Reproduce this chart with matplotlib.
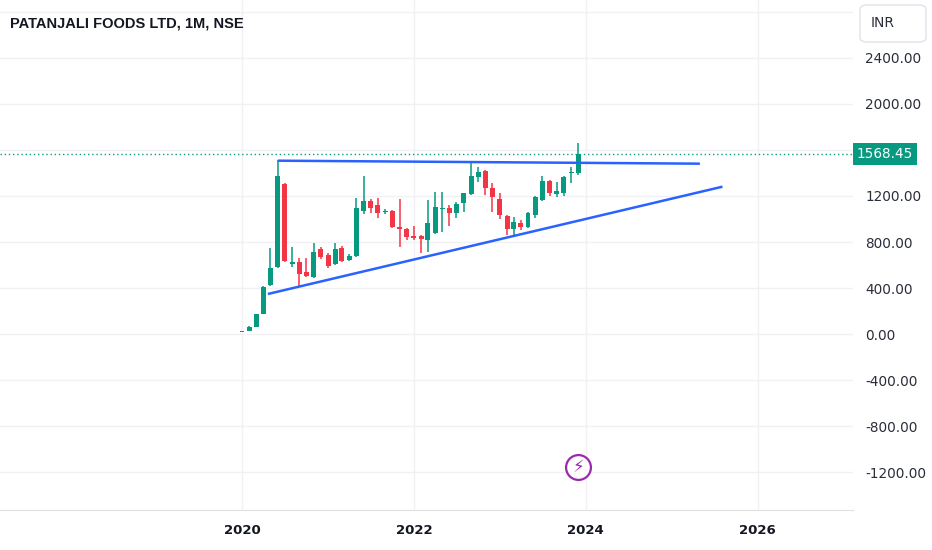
import pandas as pd
import numpy as np
import matplotlib
matplotlib.use('Agg')
import matplotlib.pyplot as plt
import matplotlib.dates as mdates
from matplotlib.patches import FancyBboxPatch

# monthly candles, Jan 2020 .. Dec 2023
months = pd.date_range('2020-01-01', '2023-12-01', freq='MS')
opens = [17, 25, 63, 174, 426, 585, 1304, 609, 629, 542, 498, 737,
         687, 606, 745, 643, 678, 1070, 1157, 1122, 1058, 1072, 933, 910,
         852, 850, 817, 881, 1090, 1093, 1050, 1142, 1217, 1363, 1417, 1267,
         1171, 1026, 910, 963, 933, 1035, 1165, 1330, 1217, 1223, 1397, 1397]
highs = [30, 66, 178, 415, 745, 1515, 1310, 759, 658, 658, 789, 760,
         702, 789, 765, 700, 1180, 1374, 1170, 1180, 1090, 1080, 1171, 925,
         939, 860, 1165, 1232, 1232, 1122, 1150, 1225, 1495, 1455, 1426, 1316,
         1223, 1035, 1020, 991, 1063, 1200, 1374, 1339, 1324, 1370, 1455, 1665]
lows = [15, 22, 60, 170, 420, 575, 630, 585, 411, 500, 490, 648,
        571, 598, 629, 635, 670, 1043, 1050, 1006, 1040, 925, 754, 817,
        817, 707, 716, 870, 890, 939, 1006, 1063, 1210, 1324, 1209, 1063,
        997, 861, 861, 904, 919, 1006, 1160, 1200, 1194, 1200, 1316, 1383]
closes = [25, 63, 174, 411, 571, 1374, 637, 629, 519, 507, 710, 667,
          591, 737, 637, 681, 1093, 1157, 1098, 1055, 1068, 928, 913, 846,
          832, 826, 963, 1102, 1098, 1055, 1130, 1223, 1374, 1411, 1267, 1189,
          1035, 910, 977, 933, 1050, 1194, 1330, 1223, 1243, 1368, 1406, 1568.45]

# drawn trendlines (start/end)
upper_dates = ['2020-06-01', '2025-05-01']
upper_vals = [1507, 1481]
lower_dates = ['2020-04-20', '2025-08-05']
lower_vals = [348, 1281]

last_price = closes[-1]
y_ticks = [-1200, -800, -400, 0, 400, 800, 1200, 2000, 2400]
grid_levels = np.arange(-1200, 2801, 400)
year_ticks = [2020, 2022, 2024, 2026]

green = '#089981'
red = '#F23645'
blue = '#2962FF'
grid_c = '#f1f1f3'
txt_c = '#131722'

fig = plt.figure(figsize=(9.32, 5.5), dpi=100)
ax = fig.add_axes([0, 40 / 550, 853 / 932, 510 / 550])

x = mdates.date2num(months)
width = 21
for xi, o, h, l, c in zip(x, opens, highs, lows, closes):
    col = green if c >= o else red
    ax.vlines(xi, l, h, color=col, lw=1.1, zorder=3)
    body = max(abs(c - o), 6)
    ax.bar(xi, body, width=width, bottom=min(o, c), color=col, zorder=4, lw=0)

ax.plot(mdates.datestr2num(upper_dates), upper_vals, color=blue, lw=1.8, zorder=5,
        solid_capstyle='butt')
ax.plot(mdates.datestr2num(lower_dates), lower_vals, color=blue, lw=1.8, zorder=5,
        solid_capstyle='butt')

ax.axhline(last_price, color=green, lw=1.0, ls=(0, (1, 2)), zorder=2)

for g in grid_levels:
    ax.axhline(g, color=grid_c, lw=1.0, zorder=0)
for yr in year_ticks:
    ax.axvline(mdates.datestr2num(f'{yr}-01-01'), color=grid_c, lw=1.0, zorder=0)

ax.set_xlim(mdates.datestr2num('2017-03-08'), mdates.datestr2num('2027-02-11'))
ax.set_ylim(-1530, 2904)

ax.set_xticks([mdates.datestr2num(f'{yr}-01-01') for yr in year_ticks])
ax.set_xticklabels([str(yr) for yr in year_ticks], fontsize=9.5, fontweight='bold',
                   color=txt_c)
ax.tick_params(axis='x', length=0, pad=10)

ax.yaxis.tick_right()
ax.set_yticks(y_ticks)
ax.set_yticklabels([f'{v:.2f}' for v in y_ticks], fontsize=9.8, color='#2a2e39')
ax.tick_params(axis='y', length=0, pad=9)

for s in ['top', 'left', 'right']:
    ax.spines[s].set_visible(False)
ax.spines['bottom'].set_color('#e0e0e0')

# last price label
ax.text(1.0 + 4 / 853, last_price, f'{last_price:.2f}', transform=ax.get_yaxis_transform(),
        ha='left', va='center', fontsize=9.8, color='white', zorder=10,
        bbox=dict(boxstyle='square,pad=0.3', fc=green, ec='none'))

# currency box
fig.patches.append(FancyBboxPatch((860 / 932, 1 - 42 / 550), 66 / 932, 37 / 550,
                                  boxstyle='round,pad=0,rounding_size=0.008',
                                  transform=fig.transFigure, fc='white',
                                  ec='#e0e3eb', lw=1.0))
fig.text(871 / 932, 1 - 23 / 550, 'INR', fontsize=10, color='#2a2e39', va='center')

# title
fig.text(10 / 932, 1 - 24 / 550, 'PATANJALI FOODS LTD, 1M, NSE', fontsize=10.5,
         fontweight='bold', family=['Liberation Sans', 'DejaVu Sans'],
         color=txt_c, va='center')

# events marker
ev_x = x[-1]
ax.scatter([ev_x], [0.085], transform=ax.get_xaxis_transform(), s=320, marker='o',
           facecolor='white', edgecolor='#9c27b0', lw=1.6, zorder=6)
ax.text(ev_x, 0.085, '\u26a1', transform=ax.get_xaxis_transform(), ha='center',
        va='center', fontsize=12, color='#9c27b0', zorder=7)

fig.savefig('out.png', dpi=100)
